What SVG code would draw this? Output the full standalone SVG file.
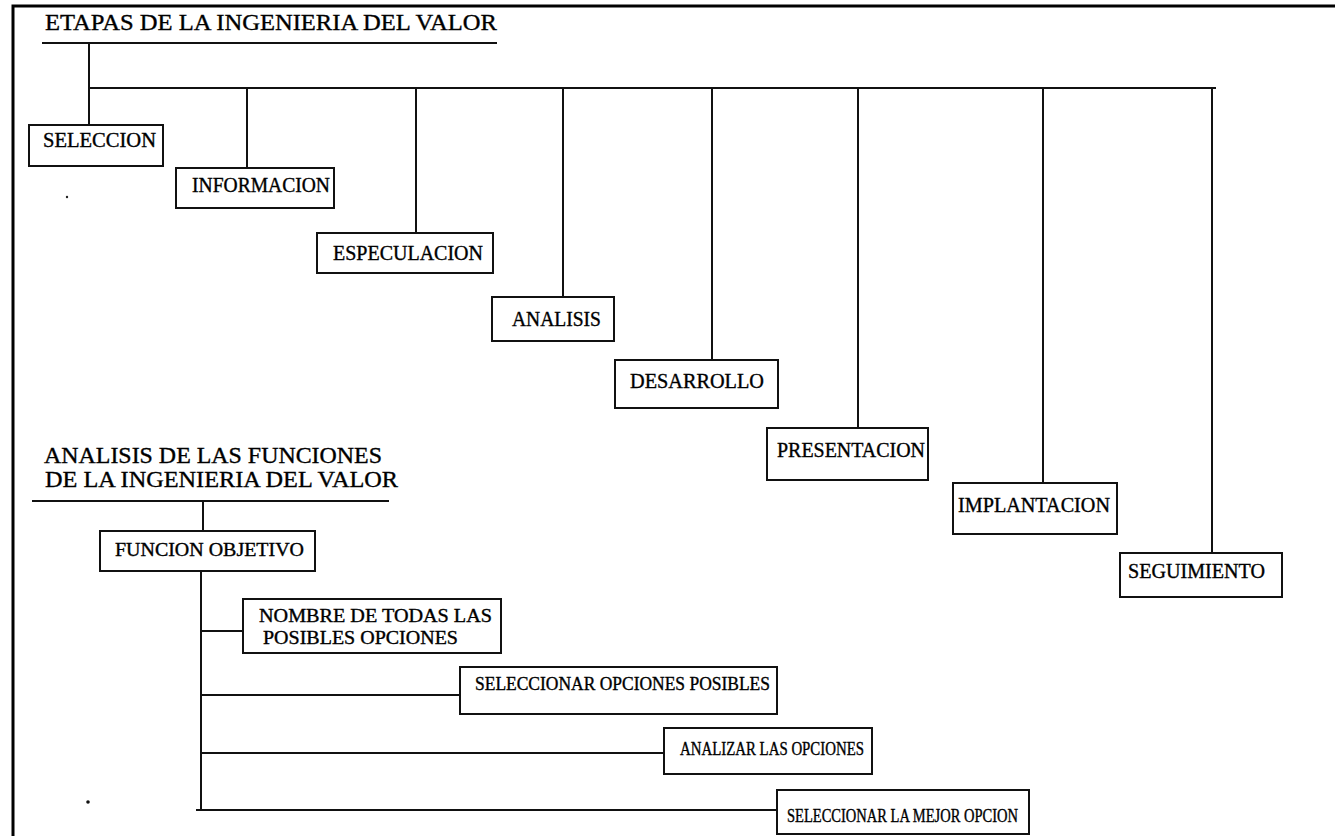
<svg xmlns="http://www.w3.org/2000/svg" width="1335" height="836" viewBox="0 0 1335 836">
  <style>
    .frame { fill: none; stroke: #000; stroke-width: 3; }
    .box { fill: #fff; stroke: #111; stroke-width: 2; }
    .wire { fill: none; stroke: #111; stroke-width: 2; }
    text { font-family: "Liberation Serif", "Times New Roman", serif; fill: #000; stroke: #000; stroke-width: 0.35; }
    .title { font-size: 23px; }
    .lbl { font-size: 20px; }
    .lbl2 { font-size: 18px; }
  </style>
  <rect width="1335" height="836" fill="#fff"/>

  <!-- page frame (top and left rules) -->
  <path class="frame" d="M13,836 V6 H1335"/>

  <!-- headings -->
  <g id="heading-etapas">
    <text class="title" x="45" y="30" textLength="452" lengthAdjust="spacingAndGlyphs">ETAPAS DE LA INGENIERIA DEL VALOR</text>
    <line class="wire" x1="42" y1="43" x2="497" y2="43"/>
  </g>
  <g id="heading-analisis">
    <text class="title" x="44" y="463" textLength="338" lengthAdjust="spacingAndGlyphs">ANALISIS DE LAS FUNCIONES</text>
    <text class="title" x="45" y="487" textLength="353" lengthAdjust="spacingAndGlyphs">DE LA INGENIERIA DEL VALOR</text>
    <line class="wire" x1="32" y1="501" x2="389" y2="501"/>
  </g>

  <!-- connectors -->
  <g id="connectors">
    <!-- stages tree -->
    <line class="wire" x1="89" y1="43" x2="89" y2="125"/>
    <line class="wire" x1="88" y1="88" x2="1216" y2="88"/>
    <line class="wire" x1="247" y1="88" x2="247" y2="168"/>
    <line class="wire" x1="416" y1="88" x2="416" y2="233"/>
    <line class="wire" x1="563" y1="88" x2="563" y2="297"/>
    <line class="wire" x1="712" y1="88" x2="712" y2="360"/>
    <line class="wire" x1="858" y1="88" x2="858" y2="428"/>
    <line class="wire" x1="1043" y1="88" x2="1043" y2="483"/>
    <line class="wire" x1="1212" y1="88" x2="1212" y2="553"/>
    <!-- function analysis tree -->
    <line class="wire" x1="203" y1="501" x2="203" y2="531"/>
    <line class="wire" x1="201" y1="571" x2="201" y2="809"/>
    <line class="wire" x1="201" y1="631" x2="243" y2="631"/>
    <line class="wire" x1="201" y1="695" x2="460" y2="695"/>
    <line class="wire" x1="201" y1="753" x2="664" y2="753"/>
    <line class="wire" x1="196" y1="810" x2="777" y2="810"/>
  </g>

  <!-- stage nodes -->
  <g id="seleccion">
    <rect class="box" x="29" y="125" width="134" height="41"/>
    <text class="lbl" x="43" y="147" textLength="113" lengthAdjust="spacingAndGlyphs">SELECCION</text>
  </g>
  <g id="informacion">
    <rect class="box" x="176" y="168" width="158" height="40"/>
    <text class="lbl" x="192" y="192" textLength="138" lengthAdjust="spacingAndGlyphs">INFORMACION</text>
  </g>
  <g id="especulacion">
    <rect class="box" x="317" y="233" width="176" height="40"/>
    <text class="lbl" x="333" y="260" textLength="150" lengthAdjust="spacingAndGlyphs">ESPECULACION</text>
  </g>
  <g id="analisis">
    <rect class="box" x="492" y="297" width="122" height="44"/>
    <text class="lbl" x="512" y="326" textLength="89" lengthAdjust="spacingAndGlyphs">ANALISIS</text>
  </g>
  <g id="desarrollo">
    <rect class="box" x="615" y="360" width="163" height="48"/>
    <text class="lbl" x="630" y="388" textLength="134" lengthAdjust="spacingAndGlyphs">DESARROLLO</text>
  </g>
  <g id="presentacion">
    <rect class="box" x="767" y="428" width="161" height="52"/>
    <text class="lbl" x="777" y="457" textLength="148" lengthAdjust="spacingAndGlyphs">PRESENTACION</text>
  </g>
  <g id="implantacion">
    <rect class="box" x="953" y="483" width="164" height="51"/>
    <text class="lbl" x="958" y="512" textLength="152" lengthAdjust="spacingAndGlyphs">IMPLANTACION</text>
  </g>
  <g id="seguimiento">
    <rect class="box" x="1120" y="553" width="162" height="44"/>
    <text class="lbl" x="1128" y="578" textLength="137" lengthAdjust="spacingAndGlyphs">SEGUIMIENTO</text>
  </g>

  <!-- function analysis nodes -->
  <g id="funcion-objetivo">
    <rect class="box" x="100" y="531" width="215" height="40"/>
    <text class="lbl2" x="115" y="556" textLength="189" lengthAdjust="spacingAndGlyphs">FUNCION OBJETIVO</text>
  </g>
  <g id="nombre-opciones">
    <rect class="box" x="243" y="599" width="258" height="54"/>
    <text class="lbl2" x="259" y="622" textLength="233" lengthAdjust="spacingAndGlyphs">NOMBRE DE TODAS LAS</text>
    <text class="lbl2" x="263" y="644" textLength="195" lengthAdjust="spacingAndGlyphs">POSIBLES OPCIONES</text>
  </g>
  <g id="seleccionar-opciones">
    <rect class="box" x="460" y="667" width="317" height="47"/>
    <text class="lbl2" x="475" y="690" textLength="295" lengthAdjust="spacingAndGlyphs">SELECCIONAR OPCIONES POSIBLES</text>
  </g>
  <g id="analizar-opciones">
    <rect class="box" x="664" y="728" width="208" height="46"/>
    <text class="lbl2" x="680" y="755" textLength="184" lengthAdjust="spacingAndGlyphs">ANALIZAR LAS OPCIONES</text>
  </g>
  <g id="mejor-opcion">
    <rect class="box" x="777" y="790" width="252" height="44"/>
    <text class="lbl2" x="787" y="822" textLength="231" lengthAdjust="spacingAndGlyphs">SELECCIONAR LA MEJOR OPCION</text>
  </g>

  <!-- stray specks -->
  <circle cx="67" cy="197" r="1.2" fill="#222"/>
  <circle cx="88" cy="802" r="1.8" fill="#111"/>
</svg>
